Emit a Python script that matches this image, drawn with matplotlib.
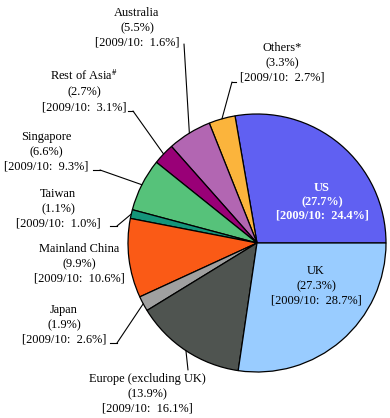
import numpy as np
import matplotlib
matplotlib.use("Agg")
import matplotlib.pyplot as plt
from matplotlib.lines import Line2D

# ---- data ----
regions = ["US", "Others*", "Australia", r"Rest of Asia$^{\#}$", "Singapore", "Taiwan",
           "Mainland China", "Japan", "Europe (excluding UK)", "UK"]
share_now = [27.7, 3.3, 5.5, 2.7, 6.6, 1.1, 9.9, 1.9, 13.9, 27.3]
share_prev = [24.4, 2.7, 1.6, 3.1, 9.3, 1.0, 10.6, 2.6, 16.1, 28.7]
colors = ["#6060F2", "#FBB43C", "#B266B2", "#990077", "#56C27A", "#14957A",
          "#FA5A16", "#A0A0A0", "#4F5450", "#99CCFF"]

plt.rcParams["mathtext.fontset"] = "stix"

W, H = 390, 418
fig = plt.figure(figsize=(W / 100, H / 100), dpi=100)
ax = fig.add_axes([0, 0, 1, 1])

# pie geometry (pixels in image coords)
cx, cy, R = 257, 243, 129

wedges, _ = ax.pie(share_now, colors=colors, startangle=0, counterclock=True,
                   radius=1.0, center=(0, 0),
                   wedgeprops=dict(edgecolor="black", linewidth=0.9))
ax.set_xlim(-cx / R, (W - cx) / R)
ax.set_ylim(-(H - cy) / R, cy / R)
ax.set_aspect("auto")
ax.axis("off")

serif = ["Liberation Serif", "DejaVu Serif"]
fs = 8.9
ls = 1.32

def fig_xy(px, py):
    return px / W, 1 - py / H

def label(i, name=None):
    n = regions[i] if name is None else name
    return f"{n}\n({share_now[i]:.1f}%)\n[2009/10:  {share_prev[i]:.1f}%]"

# outside labels: (index, text centre px, leader start px, knee px)
outside = [
    (1, (282, 63), (236, 82), (232, 82)),
    (2, (137, 28), (184, 44), (184, 44)),
    (3, (84, 91), (128, 111), (133, 111)),
    (4, (46, 152), (93, 170), (100, 170)),
    (5, (58, 209), (110, 226), (117, 226)),
    (6, (79, 264), None, None),
    (7, (64, 325), (110, 343), (117, 343)),
    (8, (147, 394), (188, 370), (188, 370)),
]

wedge_angles = [(w.theta1, w.theta2) for w in wedges]

for i, (tx, ty), start, knee in outside:
    fx, fy = fig_xy(tx, ty)
    ax.text(fx, fy, label(i), transform=fig.transFigure, ha="center",
            va="center", fontsize=fs, family=serif, linespacing=ls)
    if start is None:
        continue
    t1, t2 = wedge_angles[i]
    mid = np.deg2rad((t1 + t2) / 2)
    ex, ey = np.cos(mid), np.sin(mid)
    sx, sy = fig_xy(*start)
    kx, ky = fig_xy(*knee)
    fig.add_artist(Line2D([sx, kx], [sy, ky], transform=fig.transFigure,
                          color="black", lw=0.8))
    ax.annotate("", xy=(ex, ey), xycoords="data", xytext=(kx, ky),
                textcoords="figure fraction",
                arrowprops=dict(arrowstyle="-", color="black", lw=0.8,
                                shrinkA=0, shrinkB=0))

# inside labels
fx, fy = fig_xy(322, 202)
ax.text(fx, fy, label(0), transform=fig.transFigure, ha="center", va="center",
        fontsize=fs, family=serif, color="white", fontweight="bold",
        linespacing=1.2)
fx, fy = fig_xy(316, 286)
ax.text(fx, fy, label(9), transform=fig.transFigure, ha="center", va="center",
        fontsize=fs, family=serif, color="black", linespacing=ls)

fig.savefig("out.png", dpi=100)
